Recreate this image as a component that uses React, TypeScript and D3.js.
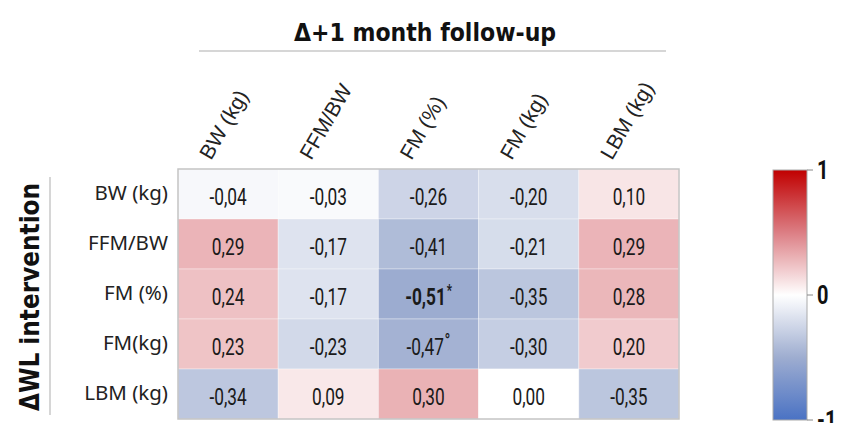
import * as d3 from 'd3';

const colLabels = ['BW (kg)', 'FFM/BW', 'FM (%)', 'FM (kg)', 'LBM (kg)'];
const rowLabels = ['BW (kg)', 'FFM/BW', 'FM (%)', 'FM(kg)', 'LBM (kg)'];

// correlation r, rows = ΔWL intervention, columns = Δ+1 month follow-up
const values = [
  [-0.04, -0.03, -0.26, -0.2, 0.1],
  [0.29, -0.17, -0.41, -0.21, 0.29],
  [0.24, -0.17, -0.51, -0.35, 0.28],
  [0.23, -0.23, -0.47, -0.3, 0.2],
  [-0.34, 0.09, 0.3, 0.0, -0.35],
];
const marks = [
  ['', '', '', '', ''],
  ['', '', '', '', ''],
  ['', '', '*', '', ''],
  ['', '', '°', '', ''],
  ['', '', '', '', ''],
];
const boldCells = [[2, 2]];
const legendTicks = [-1, 0, 1];

const W = 842;
const H = 423;
const grid = { left: 178, top: 169, right: 679, bottom: 419 };
const bar = { left: 773, right: 807, top: 170, bottom: 420 };

const numFont = "Roboto, 'DejaVu Sans', sans-serif";
const labelFont = "'Liberation Sans', Arial, sans-serif";

const locale = d3.formatLocale({
  decimal: ',',
  thousands: '.',
  grouping: [3],
  currency: ['', ''],
  minus: '-',
});
const fmt = locale.format('.2f');

const color = d3
  .scaleLinear<string>()
  .domain([-1, -0.5, 0, 0.5, 1])
  .range(['#4a72c4', '#9eadd0', '#ffffff', '#dc7e84', '#c00000'])
  .interpolate(d3.interpolateRgb)
  .clamp(true);

export default function App() {
  const x = d3.scaleBand<string>().domain(colLabels).range([grid.left, grid.right]);
  const y = d3
    .scaleBand<string>()
    .domain(rowLabels)
    .range([grid.top, grid.bottom]);
  const yBar = d3.scaleLinear().domain([-1, 1]).range([bar.bottom, bar.top]);

  const stops = d3.range(0, 1.0001, 0.05);

  return (
    <svg
      width={W}
      height={H}
      style={{ position: 'absolute', left: 0, top: 0, background: '#fff' }}
    >
      <defs>
        <linearGradient id="cbar" x1="0" y1="1" x2="0" y2="0">
          {stops.map((t) => (
            <stop key={t} offset={t} stopColor={color(-1 + 2 * t)} />
          ))}
        </linearGradient>
      </defs>

      {/* top title */}
      <text
        transform="translate(425, 41) scale(0.9, 1)"
        textAnchor="middle"
        fontFamily="'DejaVu Sans', sans-serif"
        fontWeight="bold"
        fontSize={24.5}
        fill="#111"
      >
        Δ+1 month follow-up
      </text>
      <line x1={199} x2={666} y1={51} y2={51} stroke="#c8c8c8" strokeWidth={1.5} />

      {/* column labels */}
      {colLabels.map((c) => (
        <text
          key={c}
          transform={`translate(${x(c)! + x.bandwidth() / 2 - 17}, ${grid.top - 8}) rotate(-60)`}
          fontFamily={labelFont}
          fontSize={21}
          fill="#222"
        >
          {c}
        </text>
      ))}

      {/* left title */}
      <text
        transform="translate(39, 297) rotate(-90) scale(0.86, 1)"
        textAnchor="middle"
        fontFamily="'DejaVu Sans', sans-serif"
        fontWeight="bold"
        fontSize={27}
        fill="#111"
      >
        ΔWL intervention
      </text>
      <line x1={50} x2={50} y1={177} y2={415} stroke="#c8c8c8" strokeWidth={1.5} />

      {/* row labels */}
      {rowLabels.map((r) => (
        <text
          key={r}
          x={168}
          y={y(r)! + y.bandwidth() / 2}
          dy="0.3em"
          textAnchor="end"
          fontFamily="'Noto Sans', sans-serif"
          fontSize={20.5}
          fill="#222"
        >
          {r}
        </text>
      ))}

      {/* cells */}
      {values.map((row, i) =>
        row.map((v, j) => {
          const bold = boldCells.some(([a, b]) => a === i && b === j);
          const cx = x(colLabels[j])! + x.bandwidth() / 2;
          const cy = y(rowLabels[i])! + y.bandwidth() / 2;
          return (
            <g key={`${i}-${j}`}>
              <rect
                x={x(colLabels[j])}
                y={y(rowLabels[i])}
                width={x.bandwidth()}
                height={y.bandwidth()}
                fill={color(v)}
                stroke="rgba(255,255,255,0.35)"
                strokeWidth={1}
              />
              <text
                transform={`translate(${cx}, ${cy + 2}) scale(0.72, 1)`}
                dy="0.36em"
                textAnchor="middle"
                fontFamily={numFont}
                fontSize={24}
                fontWeight={bold ? 'bold' : 'normal'}
                fill="#1a1a1a"
              >
                {fmt(v)}
                {marks[i][j] && (
                  <tspan
                    fontSize={marks[i][j] === '°' ? 22 : 16}
                    dy={marks[i][j] === '°' ? '-0.25em' : '-0.55em'}
                    dx="1"
                  >
                    {marks[i][j]}
                  </tspan>
                )}
              </text>
            </g>
          );
        }),
      )}
      <rect
        x={grid.left}
        y={grid.top}
        width={grid.right - grid.left}
        height={grid.bottom - grid.top}
        fill="none"
        stroke="#c4c4c4"
        strokeWidth={1.5}
      />

      {/* color bar */}
      <rect
        x={bar.left}
        y={bar.top}
        width={bar.right - bar.left}
        height={bar.bottom - bar.top}
        fill="url(#cbar)"
        stroke="#aaa"
        strokeWidth={1}
      />
      {legendTicks.map((t) => (
        <g key={t}>
          <line
            x1={bar.right}
            x2={bar.right + 6}
            y1={yBar(t)}
            y2={yBar(t)}
            stroke="#888"
            strokeWidth={1}
          />
          <text
            transform={`translate(${bar.right + 10}, ${yBar(t)}) scale(0.8, 1)`}
            dy="0.36em"
            fontFamily={numFont}
            fontWeight="bold"
            fontSize={25}
            fill="#111"
          >
            {t === 0 ? '0' : t > 0 ? '1' : '-1'}
          </text>
        </g>
      ))}
    </svg>
  );
}
